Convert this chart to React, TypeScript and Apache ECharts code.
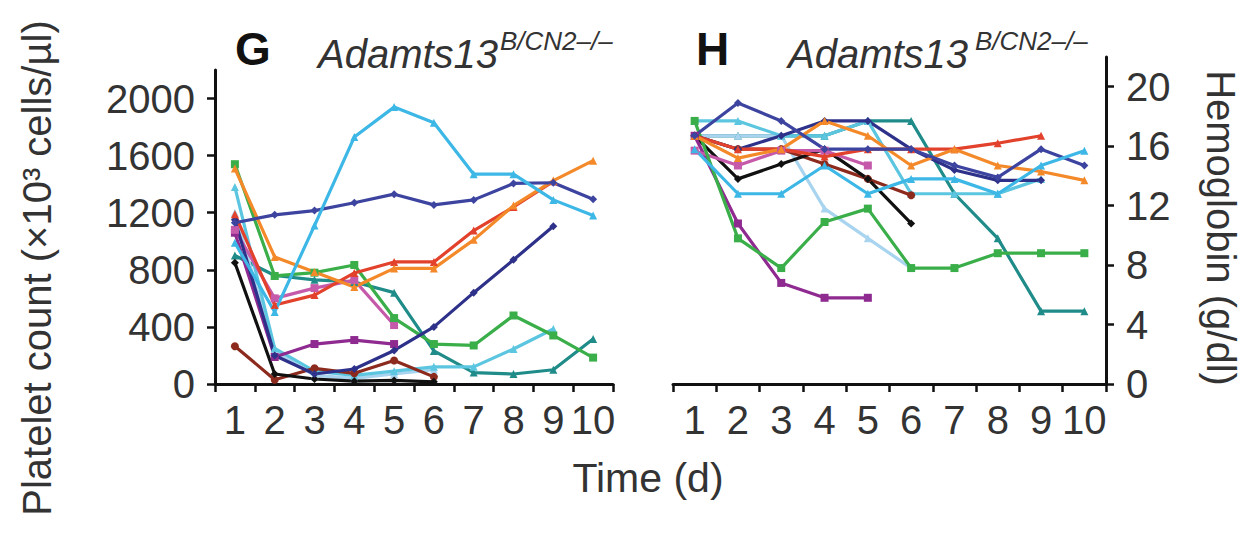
import React, { useEffect, useRef } from "react";
import * as echarts from "echarts";

const FONT = "'Liberation Sans', Arial, Helvetica, sans-serif";
const TEXT = "#333333";
const AXIS = "#111111";

const days = ["1", "2", "3", "4", "5", "6", "7", "8", "9", "10"];
const plateletTicks = [0, 400, 800, 1200, 1600, 2000];
const hemoglobinTicks = [0, 4, 8, 12, 16, 20];

// Platelet count (x10^3 cells/µl), panel G
const plSky = [990, 505, 1110, 1730, 1940, 1830, 1470, 1470, 1290, 1180];
const plNavy = [1130, 1185, 1215, 1270, 1330, 1255, 1290, 1405, 1410, 1295];
const plNavy2 = [1150, 200, 70, 105, 235, 400, 640, 870, 1105, null];
const plOrange = [1510, 890, 785, 680, 810, 810, 1010, 1250, 1425, 1565];
const plRed = [1190, 553, 623, 778, 855, 855, 1075, 1240, 1420, null];
const plGreen = [1540, 757, 780, 834, 462, 280, 270, 480, 340, 185];
const plTeal = [900, 760, 730, 715, 640, 232, 80, 70, 100, 315];
const plMagenta = [1080, 600, 672, 728, 413, null, null, null, null, null];
const plPurple = [1060, 189, 280, 308, 280, null, null, null, null, null];
const plCyan2 = [1380, 250, 90, 60, 90, 120, 120, 245, 385, null];
const plPale = [1200, 230, 60, 40, 70, 100, null, null, null, null];
const plBrown = [265, 30, 110, 75, 165, 50, null, null, null, null];
const plBlack = [850, 70, 35, 20, 25, 15, null, null, null, null];

// Hemoglobin (g/dl), panel H
const hbSky = [15.8, 12.8, 12.8, 14.7, 12.8, 13.8, 13.8, 12.8, 14.7, 15.7];
const hbNavy = [16.7, 18.9, 17.7, 15.8, 15.8, 15.8, 14.7, 13.9, 15.8, 14.7];
const hbNavy2 = [16.7, 15.8, 16.7, 17.7, 17.7, 15.8, 14.4, 13.7, 13.7, null];
const hbOrange = [16.7, 15.2, 15.8, 17.7, 16.7, 14.7, 15.8, 14.7, 14.3, 13.7];
const hbRed = [16.7, 15.8, 15.8, 15.3, 15.8, 15.8, 15.8, 16.2, 16.7, null];
const hbGreen = [17.7, 9.8, 7.8, 10.9, 11.8, 7.8, 7.8, 8.8, 8.8, 8.8];
const hbTeal = [16.7, 16.7, 16.7, 16.7, 17.7, 17.7, 12.8, 9.8, 4.9, 4.9];
const hbMagenta = [15.7, 14.7, 15.7, 15.7, 14.7, null, null, null, null, null];
const hbPurple = [16.7, 10.8, 6.8, 5.8, 5.8, null, null, null, null, null];
const hbCyan2 = [17.7, 17.7, 16.7, 16.7, 17.7, 12.8, 12.8, 12.8, 13.8, null];
const hbPale = [16.7, 16.7, 16.7, 11.8, 9.8, 7.8, null, null, null, null];
const hbBrown = [16.7, 15.8, 15.8, 14.8, 13.8, 12.7, null, null, null, null];
const hbBlack = [16.7, 13.8, 14.8, 15.8, 13.8, 10.8, null, null, null, null];

const mice = [
  { name: "teal", color: "#1f8c8a", symbol: "triangle", pl: plTeal, hb: hbTeal },
  { name: "pale", color: "#a9d4ef", symbol: "triangle", pl: plPale, hb: hbPale },
  { name: "cyan2", color: "#5cc6e0", symbol: "triangle", pl: plCyan2, hb: hbCyan2 },
  { name: "brown", color: "#8c2a1e", symbol: "circle", pl: plBrown, hb: hbBrown },
  { name: "black", color: "#111111", symbol: "diamond", pl: plBlack, hb: hbBlack },
  { name: "purple", color: "#8e2a90", symbol: "rect", pl: plPurple, hb: hbPurple },
  { name: "magenta", color: "#c65aaa", symbol: "rect", pl: plMagenta, hb: hbMagenta },
  { name: "green", color: "#3aae49", symbol: "rect", pl: plGreen, hb: hbGreen },
  { name: "navy2", color: "#2e3189", symbol: "diamond", pl: plNavy2, hb: hbNavy2 },
  { name: "red", color: "#e2412b", symbol: "triangle", pl: plRed, hb: hbRed },
  { name: "orange", color: "#f4892a", symbol: "triangle", pl: plOrange, hb: hbOrange },
  { name: "navy", color: "#3d44a0", symbol: "diamond", pl: plNavy, hb: hbNavy },
  { name: "sky", color: "#3cb7e6", symbol: "triangle", pl: plSky, hb: hbSky },
];

const plain = (v: number) => String(v);

function xAxisCfg(gridIndex: number) {
  return {
    gridIndex,
    type: "category",
    data: days,
    boundaryGap: true,
    axisLine: { show: true, lineStyle: { color: AXIS, width: 3 } },
    axisTick: { show: true, interval: 0, length: 8, lineStyle: { color: AXIS, width: 2.5 } },
    axisLabel: { interval: 0, fontSize: 40, color: TEXT, fontFamily: FONT, margin: 16 },
    splitLine: { show: false },
  };
}

export default function App() {
  const ref = useRef<HTMLDivElement>(null);
  useEffect(() => {
    document.body.style.margin = "0";
    document.body.style.overflow = "hidden";
    if (!ref.current) return;
    const chart = echarts.init(ref.current, null, { renderer: "svg" });
    const series: any[] = [];
    mice.forEach((m) => {
      series.push({
        name: m.name + "-G",
        type: "line",
        xAxisIndex: 0,
        yAxisIndex: 0,
        data: m.pl,
        symbol: m.symbol,
        symbolSize: 8,
        connectNulls: false,
        lineStyle: { color: m.color, width: 3.2 },
        itemStyle: { color: m.color },
      });
      series.push({
        name: m.name + "-H",
        type: "line",
        xAxisIndex: 1,
        yAxisIndex: 1,
        data: m.hb,
        symbol: m.symbol,
        symbolSize: 8,
        connectNulls: false,
        lineStyle: { color: m.color, width: 3.2 },
        itemStyle: { color: m.color },
      });
    });
    chart.setOption({
      animation: false,
      backgroundColor: "#ffffff",
      grid: [
        { left: 215, top: 70, width: 398, height: 314 },
        { left: 673, top: 57, width: 433, height: 327 },
      ],
      xAxis: [xAxisCfg(0), xAxisCfg(1)],
      yAxis: [
        {
          gridIndex: 0,
          type: "value",
          min: 0,
          max: 2200,
          interval: 400,
          splitLine: { show: false },
          axisLine: { show: true, lineStyle: { color: AXIS, width: 3 } },
          axisTick: { show: true, length: 8, lineStyle: { color: AXIS, width: 2.5 }, customValues: plateletTicks },
          axisLabel: { fontSize: 40, color: TEXT, fontFamily: FONT, margin: 20, customValues: plateletTicks, formatter: plain },
        },
        {
          gridIndex: 1,
          type: "value",
          position: "right",
          min: 0,
          max: 22,
          interval: 4,
          splitLine: { show: false },
          axisLine: { show: true, lineStyle: { color: AXIS, width: 3 } },
          axisTick: { show: true, length: 8, lineStyle: { color: AXIS, width: 2.5 }, customValues: hemoglobinTicks },
          axisLabel: { fontSize: 40, color: TEXT, fontFamily: FONT, margin: 20, customValues: hemoglobinTicks, formatter: plain },
        },
      ],
      graphic: [
        { type: "text", left: 235, top: 26, style: { text: "G", fontSize: 46, fontWeight: "bold", fill: "#111", fontFamily: FONT } },
        { type: "text", left: 318, top: 34, style: { text: "Adamts13", fontSize: 40, fontStyle: "italic", fill: TEXT, fontFamily: FONT } },
        { type: "text", left: 500, top: 28, style: { text: "B/CN2–/–", fontSize: 26, fontStyle: "italic", fill: TEXT, fontFamily: FONT } },
        { type: "text", left: 696, top: 26, style: { text: "H", fontSize: 46, fontWeight: "bold", fill: "#111", fontFamily: FONT } },
        { type: "text", left: 788, top: 34, style: { text: "Adamts13", fontSize: 40, fontStyle: "italic", fill: TEXT, fontFamily: FONT } },
        { type: "text", left: 975, top: 28, style: { text: "B/CN2–/–", fontSize: 26, fontStyle: "italic", fill: TEXT, fontFamily: FONT } },
        {
          type: "text",
          x: 37,
          y: 268,
          rotation: Math.PI / 2,
          style: { text: "Platelet count (×10³ cells/µl)", fontSize: 40, fill: TEXT, fontFamily: FONT, align: "center", verticalAlign: "middle" },
        },
        {
          type: "text",
          x: 1221,
          y: 228,
          rotation: -Math.PI / 2,
          style: { text: "Hemoglobin (g/dl)", fontSize: 40, fill: TEXT, fontFamily: FONT, align: "center", verticalAlign: "middle" },
        },
        {
          type: "text",
          x: 648,
          y: 478,
          style: { text: "Time (d)", fontSize: 41, fill: TEXT, fontFamily: FONT, align: "center", verticalAlign: "middle" },
        },
      ],
      series,
    });
    return () => chart.dispose();
  }, []);
  return <div ref={ref} style={{ width: 1243, height: 536 }} />;
}
